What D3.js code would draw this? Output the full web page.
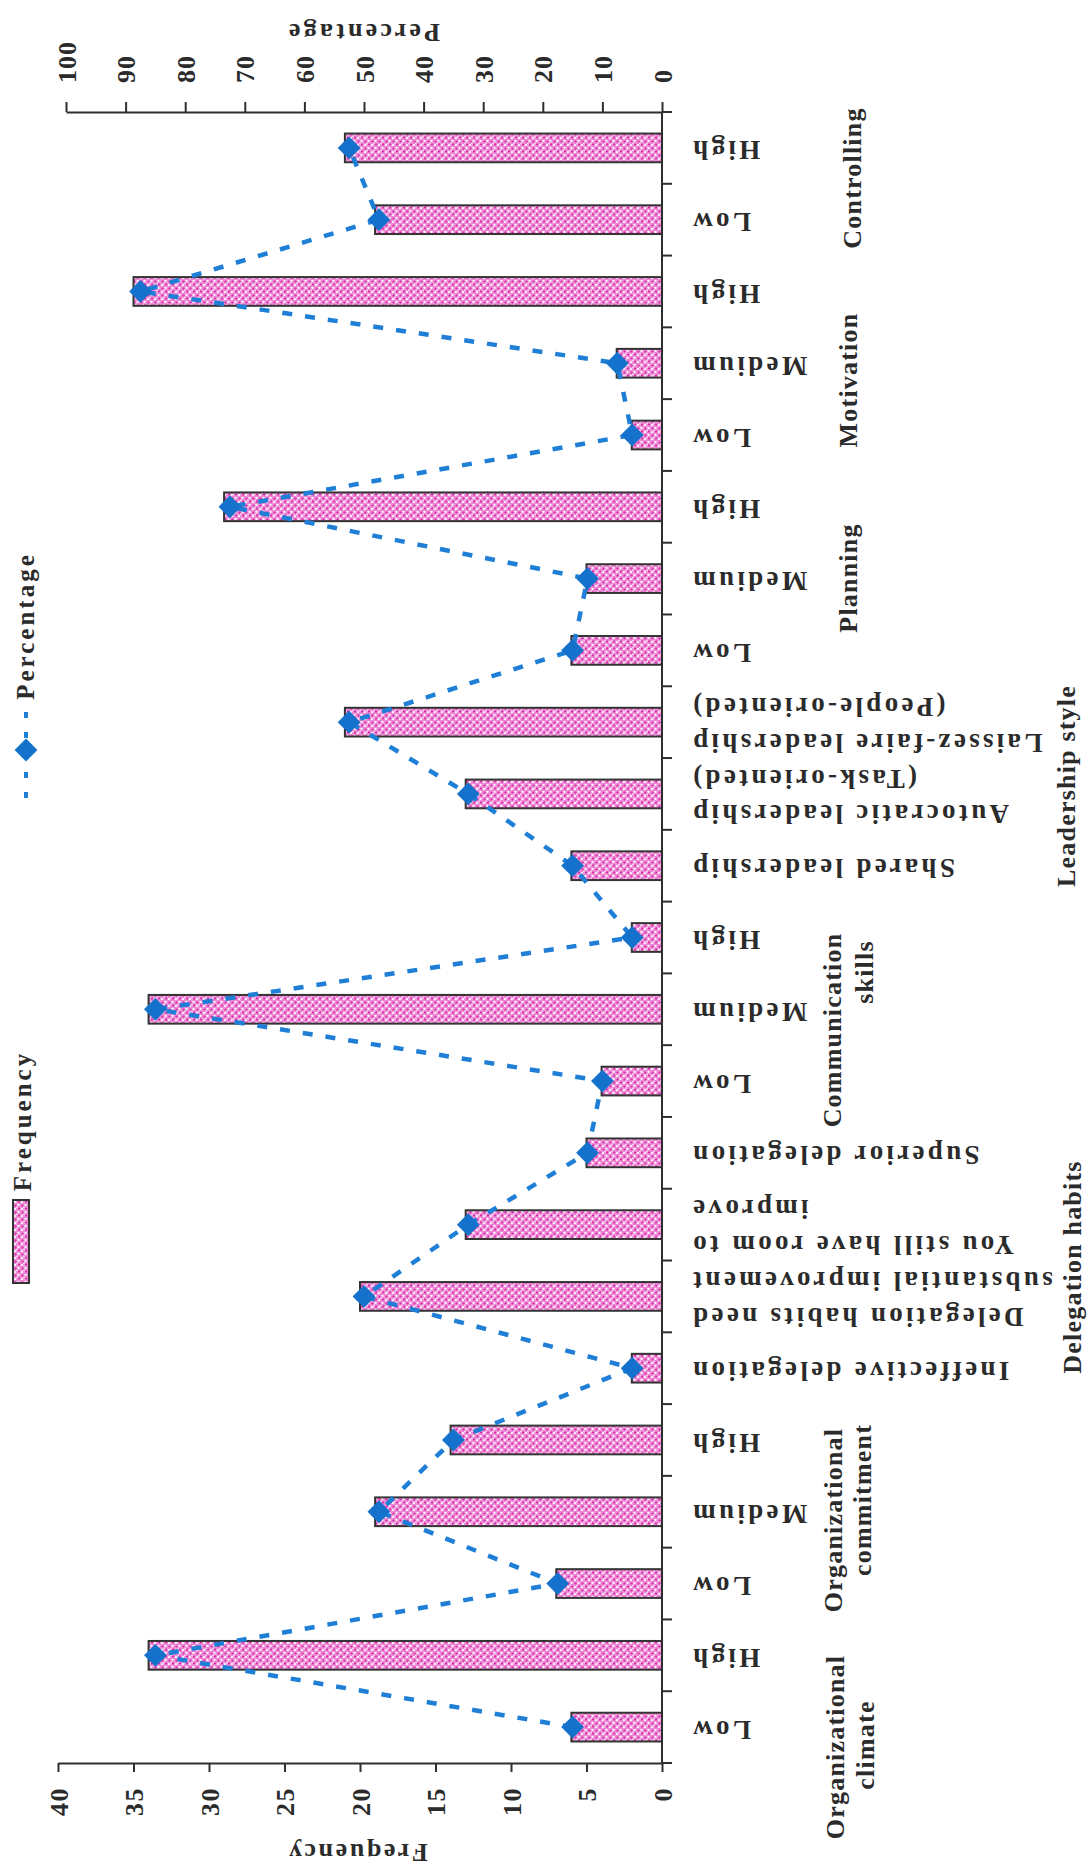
<!DOCTYPE html>
<html><head><meta charset="utf-8">
<script src="https://cdn.jsdelivr.net/npm/d3@7/dist/d3.min.js"></script>
<style>
body{margin:0;background:#fff}
svg{display:block;background:#fff}
text{font-family:"Liberation Serif","Times New Roman",serif;font-weight:bold;fill:#2b2b2b}
</style>
</head><body><svg id="c" width="1091" height="1872"></svg>
<script>
// ---------- data ----------
const categoryLabels = [
  ["Low"],["High"],
  ["Low"],["Medium"],["High"],
  ["Ineffective delegation"],["Delegation habits need","substantial improvement"],["You still have room to","improve"],["Superior delegation"],
  ["Low"],["Medium"],["High"],
  ["Shared leadership"],["Autocratic leadership","(Task-oriented)"],["Laissez-faire leadership","(People-oriented)"],
  ["Low"],["Medium"],["High"],
  ["Low"],["Medium"],["High"],
  ["Low"],["High"]
];
const frequency  = [6,34, 7,19,14, 2,20,13,5, 4,34,2, 6,13,21, 6,5,29, 2,3,35, 19,21];
const percentage = [15,85, 17.5,47.5,35, 5,50,32.5,12.5, 10,85,5, 15,32.5,52.5, 15,12.5,72.5, 5,7.5,87.5, 47.5,52.5];
const groupNames = [["Organizational","climate"],["Organizational","commitment"],["Delegation habits"],["Communication","skills"],["Leadership style"],["Planning"],["Motivation"],["Controlling"]];
const freqTicks = [0,5,10,15,20,25,30,35,40];
const pctTicks  = [0,10,20,30,40,50,60,70,80,90,100];
const seriesNames = ["Frequency","Percentage"];
const axisTitles = {left:"Frequency", right:"Percentage"};

// ---------- layout ----------
const L = {axisX:662, bottom:1763, top:112, freqEnd:58, pctEnd:66};
const groupLayout = [
  {x:[835,865], cy:[1747,1745]},
  {x:[833,862], cy:[1520,1500]},
  {x:[1072], cy:[1267]},
  {x:[832,864], cy:[1030,972]},
  {x:[1066], cy:[786]},
  {x:[848], cy:[578]},
  {x:[848], cy:[380]},
  {x:[852], cy:[178]}
];
const axisColor = "#2e2e2e";
const lineColor = "#1f7fd6";
const markColor = "#1572cc";

const svg = d3.select("#c");
const defs = svg.append("defs");
const pat = defs.append("pattern").attr("id","dots").attr("width",7).attr("height",7).attr("patternUnits","userSpaceOnUse");
pat.append("rect").attr("width",7).attr("height",7).attr("fill","#ef8ad6");
[[1.5,1.5,"#d22aa6"],[5,4.5,"#d22aa6"],[4.5,1,"#ffffff"],[1,5,"#ffffff"],[3,3.5,"#f9c8ec"]].forEach(([cx,cy,c])=>
  pat.append("circle").attr("cx",cx).attr("cy",cy).attr("r",1.1).attr("fill",c));

const idx = d3.range(categoryLabels.length);
const y = d3.scaleBand().domain(idx).range([L.bottom, L.top]).paddingInner(0.6).paddingOuter(0.3);
const xF = d3.scaleLinear().domain([0,40]).range([L.axisX, L.freqEnd]);
const xP = d3.scaleLinear().domain([0,100]).range([L.axisX, L.pctEnd]);
const bw = y.bandwidth();

// bars
svg.append("g").selectAll("rect").data(frequency).join("rect")
  .attr("x", d=>xF(d)).attr("width", d=>xF(0)-xF(d))
  .attr("y", (d,i)=>y(i)).attr("height", bw)
  .attr("fill","url(#dots)").attr("stroke","#333").attr("stroke-width",2);

// frequency axis (bottom)
const gF = svg.append("g").attr("transform",`translate(0,${L.bottom})`)
  .call(d3.axisBottom(xF).tickValues(freqTicks).tickSizeInner(9).tickSizeOuter(0));
gF.select(".domain").attr("stroke",axisColor).attr("stroke-width",2);
gF.selectAll(".tick line").attr("stroke",axisColor).attr("stroke-width",2);
gF.selectAll(".tick text").attr("x",-24).attr("y",0).attr("dy","0.35em")
  .attr("transform","rotate(-90)").attr("text-anchor","end")
  .style("font-size","26px").style("letter-spacing","1.5px").attr("fill","#2b2b2b");

// percentage axis (top)
const gP = svg.append("g").attr("transform",`translate(0,${L.top})`)
  .call(d3.axisTop(xP).tickValues(pctTicks).tickSizeInner(10).tickSizeOuter(0));
gP.select(".domain").attr("stroke",axisColor).attr("stroke-width",2);
gP.selectAll(".tick line").attr("stroke",axisColor).attr("stroke-width",2);
gP.selectAll(".tick text").attr("x",29).attr("y",0).attr("dy","0.35em")
  .attr("transform","rotate(-90)").attr("text-anchor","start")
  .style("font-size","26px").style("letter-spacing","1px").attr("fill","#2b2b2b");

// category axis
const gC = svg.append("g");
gC.append("line").attr("x1",L.axisX).attr("x2",L.axisX).attr("y1",L.top).attr("y2",L.bottom+1)
  .attr("stroke",axisColor).attr("stroke-width",2);
gC.selectAll("line.b").data(d3.range(categoryLabels.length+1)).join("line").attr("class","b")
  .attr("x1",L.axisX).attr("x2",L.axisX+10)
  .attr("y1",k=>L.bottom - k*y.step()).attr("y2",k=>L.bottom - k*y.step())
  .attr("stroke",axisColor).attr("stroke-width",2);
const catText = gC.selectAll("text").data(categoryLabels).join("text")
  .attr("transform",(d,i)=>`translate(690,${y(i)+bw/2+3}) rotate(180)`)
  .attr("text-anchor","end").style("font-size","27px").style("letter-spacing","3.3px");
catText.each(function(lines){
  const t = d3.select(this);
  const lh = 1.33;
  lines.forEach((s,j)=>{
    t.append("tspan").attr("x",0)
     .attr("dy", j===0 ? (0.35 - (lines.length-1)*lh/2)+"em" : lh+"em").text(s);
  });
});

// group labels
groupNames.forEach((lines,g)=>{
  lines.forEach((s,j)=>{
    svg.append("text")
      .attr("transform",`translate(${groupLayout[g].x[j]},${groupLayout[g].cy[j]}) rotate(-90)`)
      .attr("text-anchor","middle").attr("dy","0.35em")
      .style("font-size","26px").style("letter-spacing","1.2px").text(s);
  });
});

// percentage line
const line = d3.line().x(d=>xP(d[1])).y(d=>y(d[0])+bw/2);
svg.append("path").datum(percentage.map((p,i)=>[i,p])).attr("d",line)
  .attr("fill","none").attr("stroke",lineColor).attr("stroke-width",4.5)
  .attr("stroke-dasharray","10,13");
const diamond = d3.symbol(d3.symbolSquare, 260);
svg.append("g").selectAll("path").data(percentage).join("path")
  .attr("transform",(d,i)=>`translate(${xP(d)},${y(i)+bw/2}) rotate(45)`)
  .attr("d",diamond).attr("fill",markColor);

// axis titles
svg.append("text").attr("transform","translate(357,1853) rotate(180)")
  .attr("text-anchor","middle").attr("dy","0.35em")
  .style("font-size","26px").style("letter-spacing","2.6px").text(axisTitles.left);
svg.append("text").attr("transform","translate(363,33) rotate(180)")
  .attr("text-anchor","middle").attr("dy","0.35em")
  .style("font-size","26px").style("letter-spacing","3.2px").text(axisTitles.right);

// legend
const lg = svg.append("g");
lg.append("rect").attr("x",13).attr("y",1200).attr("width",16).attr("height",83)
  .attr("fill","url(#dots)").attr("stroke","#333").attr("stroke-width",2);
lg.append("text").attr("transform","translate(22,1121) rotate(-90)")
  .attr("text-anchor","middle").attr("dy","0.35em")
  .style("font-size","25px").style("letter-spacing","3px").text(seriesNames[0]);
lg.append("line").attr("x1",26).attr("x2",26).attr("y1",712).attr("y2",798)
  .attr("stroke",lineColor).attr("stroke-width",4).attr("stroke-dasharray","6,14");
lg.append("path").attr("transform","translate(26,750) rotate(45)").attr("d",diamond).attr("fill",markColor);
lg.append("text").attr("transform","translate(25,626) rotate(-90)")
  .attr("text-anchor","middle").attr("dy","0.35em")
  .style("font-size","25px").style("letter-spacing","3px").text(seriesNames[1]);
</script></body></html>
